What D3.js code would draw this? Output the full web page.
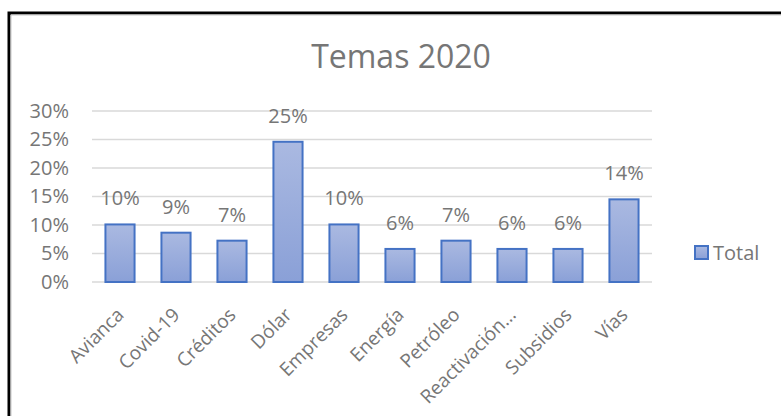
<!DOCTYPE html>
<html>
<head>
<meta charset="utf-8">
<script src="https://cdnjs.cloudflare.com/ajax/libs/d3/7.8.5/d3.min.js"></script>
<style>
  body { margin: 0; background: #fff; }
  text { font-family: "Open Sans", sans-serif; fill: #767676; }
</style>
</head>
<body>
<svg></svg>
<script>
var svg = d3.select("svg")
            .attr("width", 781)
            .attr("height", 416);

// data
var categories = ["Avianca", "Covid-19", "Créditos", "Dólar", "Empresas", "Energía", "Petróleo", "Reactivación...", "Subsidios", "Vías"];
var values = [0.101, 0.0865, 0.0725, 0.246, 0.101, 0.058, 0.0725, 0.058, 0.058, 0.145];
var valueLabels = ["10%", "9%", "7%", "25%", "10%", "6%", "7%", "6%", "6%", "14%"];
var yTicks = [0, 0.05, 0.10, 0.15, 0.20, 0.25, 0.30];
var seriesName = "Total";

var margin = {top: 111, left: 92},
    width = 560,
    height = 171,
    g = svg.append("g").attr("transform", "translate(" + margin.left + "," + margin.top + ")");

// border (only top and left show)
svg.append("path")
    .attr("d", "M9,416 L9,13 L781,13")
    .style("fill", "none")
    .style("stroke", "#000")
    .style("stroke-width", 3);
svg.append("path")
    .attr("d", "M11,416 L11,15 L781,15")
    .style("fill", "none")
    .style("stroke", "#c8c8c8")
    .style("stroke-width", 1);

// gradient fill for bars
var grad = svg.append("defs").append("linearGradient")
    .attr("id", "barGrad")
    .attr("x1", 0).attr("y1", 0).attr("x2", 0).attr("y2", 1);
grad.append("stop").attr("offset", "0%").attr("stop-color", "#aab9e1");
grad.append("stop").attr("offset", "100%").attr("stop-color", "#8aa0d7");

var x = d3.scaleBand().domain(categories).range([0, width]).paddingInner(0.48).paddingOuter(0.24),
    y = d3.scaleLinear().domain([0, 0.30]).range([height, 0]);

// title
svg.append("text")
    .attr("x", 401)
    .attr("y", 68)
    .attr("text-anchor", "middle")
    .style("font-size", "32px")
    .text("Temas 2020");

// gridlines
g.selectAll(".grid")
    .data(yTicks)
    .enter().append("line")
    .attr("x1", 0).attr("x2", width)
    .attr("y1", function(d) { return y(d); })
    .attr("y2", function(d) { return y(d); })
    .style("stroke", "#d9d9d9")
    .style("stroke-width", 1.3);

// y axis
var yAxis = g.append("g")
    .call(d3.axisLeft(y).tickValues(yTicks).tickFormat(d3.format(".0%")).tickSize(0).tickPadding(23));
yAxis.select(".domain").remove();
yAxis.selectAll("text").style("font-size", "20px").style("fill", "#767676").style("font-family", "Open Sans, sans-serif");

// bars
g.selectAll(".bar")
    .data(values)
    .enter().append("rect")
    .attr("x", function(d, i) { return x(categories[i]); })
    .attr("y", function(d) { return y(d); })
    .attr("width", x.bandwidth())
    .attr("height", function(d) { return height - y(d); })
    .style("fill", "url(#barGrad)")
    .style("stroke", "#4472c4")
    .style("stroke-width", 2);

// value labels
g.selectAll(".lbl")
    .data(values)
    .enter().append("text")
    .attr("x", function(d, i) { return x(categories[i]) + x.bandwidth() / 2; })
    .attr("y", function(d) { return y(d) - 19; })
    .attr("text-anchor", "middle")
    .style("font-size", "20px")
    .text(function(d, i) { return valueLabels[i]; });

// x labels
g.selectAll(".xl")
    .data(categories)
    .enter().append("text")
    .attr("transform", function(d) {
        return "translate(" + (x(d) + x.bandwidth() / 2 + 5) + "," + (height + 34) + ") rotate(-45)";
    })
    .attr("text-anchor", "end")
    .style("font-size", "19px")
    .text(function(d) { return d; });

// legend
svg.append("rect")
    .attr("x", 695).attr("y", 246)
    .attr("width", 13).attr("height", 13)
    .style("fill", "url(#barGrad)")
    .style("stroke", "#4472c4")
    .style("stroke-width", 2);
svg.append("text")
    .attr("x", 713)
    .attr("y", 260)
    .style("font-size", "20px")
    .text(seriesName);
</script>
</body>
</html>
